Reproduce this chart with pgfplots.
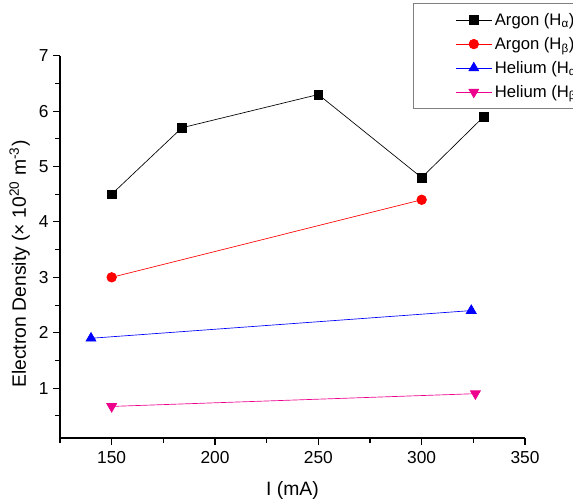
\documentclass[border=0pt]{standalone}
\usepackage{pgfplots}
\pgfplotsset{compat=1.18}
\usepackage{fontspec}
\setmainfont{Liberation Sans}
\begin{document}
\begin{tikzpicture}
\begin{axis}[
    name=ax,
    scale only axis,
    width=348.75pt, height=286.7pt,
    xmin=125, xmax=350, ymin=0.1, ymax=7,
    axis lines*=left,
    axis line style={line width=0.9pt},
    tick align=outside,
    tick style={line width=0.8pt, black},
    major tick length=5pt, minor tick length=3.5pt,
    xtick={150,200,...,350}, minor xtick={125,175,...,325},
    ytick={1,...,7}, minor ytick={0.5,1.5,...,6.5},
    tick label style={font=\fontsize{13}{15}\selectfont},
    xticklabel style={yshift=-1.5pt},
    /pgf/number format/assume math mode=true,
    xlabel={I (mA)},
    ylabel={Electron Density (× 10\textsuperscript{20} m\textsuperscript{-3})},
    label style={font=\fontsize{14.5}{16}\selectfont},
    xlabel style={yshift=-6.5pt},
    ylabel style={at={(ticklabel cs:0.455)}},
    legend style={at={(axis description cs:0.759,1.138)}, anchor=north west,
        draw=gray, line width=0.6pt, font=\fontsize{12.5}{14}\selectfont,
        row sep=3.4pt, inner xsep=4pt, inner ysep=5.3pt},
    legend cell align=left,
    legend image code/.code={\path (0cm,0cm); \draw[mark repeat=2,mark phase=2] plot coordinates {(0.97cm,0cm) (1.445cm,0cm) (1.92cm,0cm)};},
    every axis plot/.append style={line width=0.5pt},
]
\addplot[black, mark=square*, mark size=3.3pt] coordinates {(150,4.5) (184,5.7) (250,6.3) (300,4.8) (330,5.9)};
\addplot[red, mark=*, mark size=3.6pt] coordinates {(150,3.0) (300,4.4)};
\addplot[blue, mark=triangle*, mark size=4.3pt] coordinates {(140,1.9) (324,2.4)};
\addplot[magenta, mark=triangle*, mark size=4.3pt, mark options={rotate=180}] coordinates {(150,0.67) (326,0.9)};
\legend{Argon (H\textsubscript{α}), Argon (H\textsubscript{β}), Helium (H\textsubscript{α}), Helium (H\textsubscript{β})}
\end{axis}
\pgfresetboundingbox
\path[use as bounding box] ([shift={(-45pt,-47.25pt)}]ax.south west) rectangle ([shift={(36pt,41.8pt)}]ax.north east);
\end{tikzpicture}
\end{document}
